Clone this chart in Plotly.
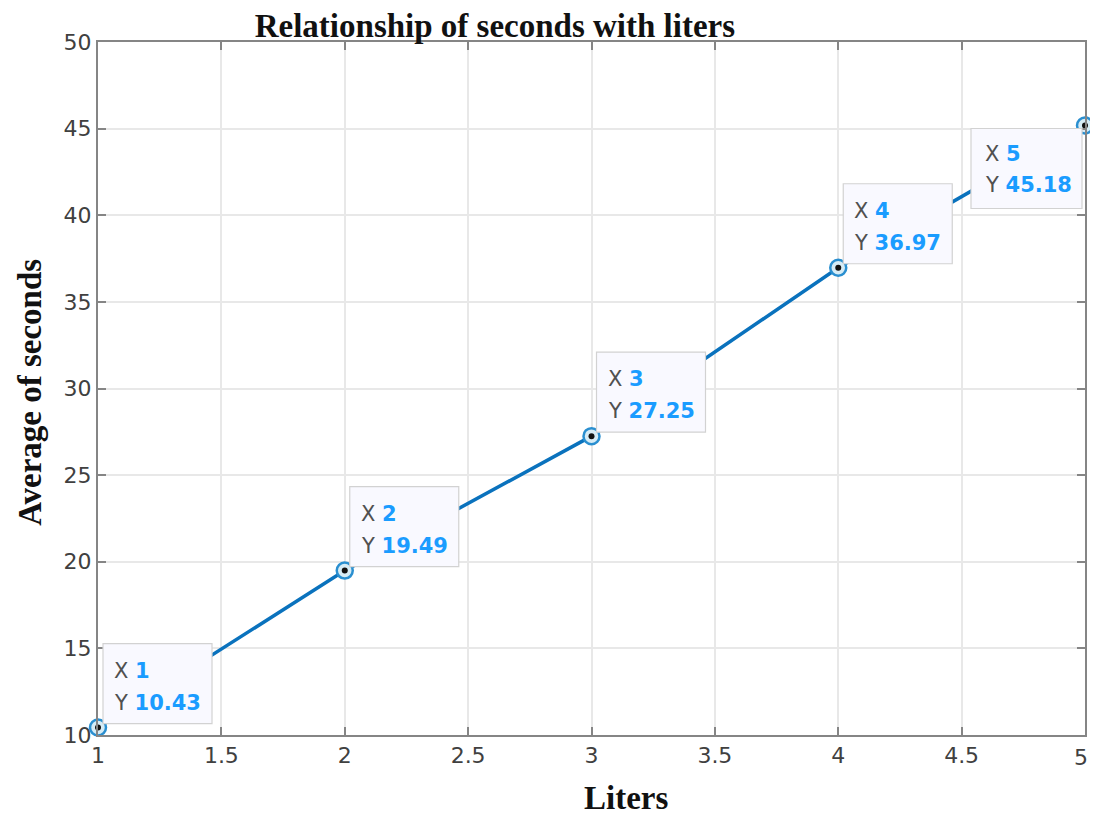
import plotly.graph_objects as go

liters = [1, 2, 3, 4, 5]
avg_seconds = [10.43, 19.49, 27.25, 36.97, 45.18]
x_ticks = [1, 1.5, 2, 2.5, 3, 3.5, 4, 4.5, 5]
y_ticks = [10, 15, 20, 25, 30, 35, 40, 45, 50]

line_blue = "#0a72bd"
tip_blue = "#1a9cff"
serif = "Liberation Serif, Times New Roman, serif"
sans = "DejaVu Sans, Arial, sans-serif"

fig = go.Figure()
fig.add_trace(go.Scatter(
    x=liters, y=avg_seconds, mode="lines",
    line=dict(color=line_blue, width=3.5),
    showlegend=False, cliponaxis=False))

# data-tip boxes (pixel-sized shapes anchored at each point)
for i, (xv, yv) in enumerate(zip(liters, avg_seconds)):
    last = i == len(liters) - 1
    if last:
        bx0, bx1, by0, by1 = -114, -3, -83, -3
        tx, ty1, ty2 = -102, -28, -59
    else:
        bx0, bx1, by0, by1 = 5, 114, 4, 84
        tx, ty1, ty2 = 14, 57, 25
    fig.add_shape(type="rect", xref="x", yref="y",
                  xsizemode="pixel", ysizemode="pixel", xanchor=xv, yanchor=yv,
                  x0=bx0, x1=bx1, y0=by0, y1=by1,
                  fillcolor="#f9f9ff", line=dict(color="#d2d2d2", width=1.2),
                  layer="above")
    fig.add_annotation(x=xv, y=yv, xref="x", yref="y", showarrow=False,
                       xanchor="left", yanchor="middle", xshift=tx, yshift=ty1,
                       text=f"X <span style='color:{tip_blue}'><b>{xv}</b></span>",
                       font=dict(family=sans, size=21, color="#505050"))
    fig.add_annotation(x=xv, y=yv, xref="x", yref="y", showarrow=False,
                       xanchor="left", yanchor="middle", xshift=tx, yshift=ty2,
                       text=f"Y <span style='color:{tip_blue}'><b>{yv:.2f}</b></span>",
                       font=dict(family=sans, size=21, color="#505050"))

fig.add_trace(go.Scatter(
    x=liters, y=avg_seconds, mode="markers",
    marker=dict(size=16, color="#d6ecf6", line=dict(color="#2a8fd0", width=2.5)),
    showlegend=False, cliponaxis=False))
fig.add_trace(go.Scatter(
    x=liters, y=avg_seconds, mode="markers",
    marker=dict(size=6, color="#111111"),
    showlegend=False, cliponaxis=False))

tick_font = dict(family=sans, size=22, color="#404040")
axis_common = dict(
    showline=True, linecolor="#858585", linewidth=2, mirror="ticks",
    ticks="inside", ticklen=8, tickcolor="#858585", tickwidth=1.5,
    showgrid=True, gridcolor="#e8e8e8", gridwidth=1.5, zeroline=False,
    tickfont=tick_font)

# last x tick label is drawn as an annotation so it does not shrink the plot area
x_ticktext = [f"{v:g}" for v in x_ticks[:-1]] + [""]
fig.update_xaxes(range=[1, 5], tickvals=x_ticks, ticktext=x_ticktext, **axis_common)
fig.update_yaxes(range=[10, 50], tickvals=y_ticks, ticktext=[str(v) for v in y_ticks],
                 **axis_common)
fig.add_annotation(x=x_ticks[-1], y=0, xref="x", yref="paper", showarrow=False,
                   xanchor="center", yanchor="middle", yshift=-22, xshift=-4,
                   text=f"{x_ticks[-1]:g}", font=tick_font)

# axis titles placed as paper annotations
fig.add_annotation(x=0.535, y=-0.091, xref="paper", yref="paper", showarrow=False,
                   xanchor="center", yanchor="middle", text="<b>Liters</b>",
                   font=dict(family=serif, size=33, color="#111111"))
fig.add_annotation(x=-0.069, y=0.495, xref="paper", yref="paper", showarrow=False,
                   xanchor="center", yanchor="middle", textangle=-90,
                   text="<b>Average of seconds</b>",
                   font=dict(family=serif, size=33, color="#111111"))

fig.update_layout(
    width=1082, height=807,
    margin=dict(l=90, r=3, t=34, b=80),
    plot_bgcolor="white", paper_bgcolor="white",
    title=dict(text="<b>Relationship of seconds with liters</b>", x=0.450, xanchor="center",
               y=1 - 17 / 807, yanchor="middle",
               font=dict(family=serif, size=33, color="#111111")))

fig.write_html("out.html")
